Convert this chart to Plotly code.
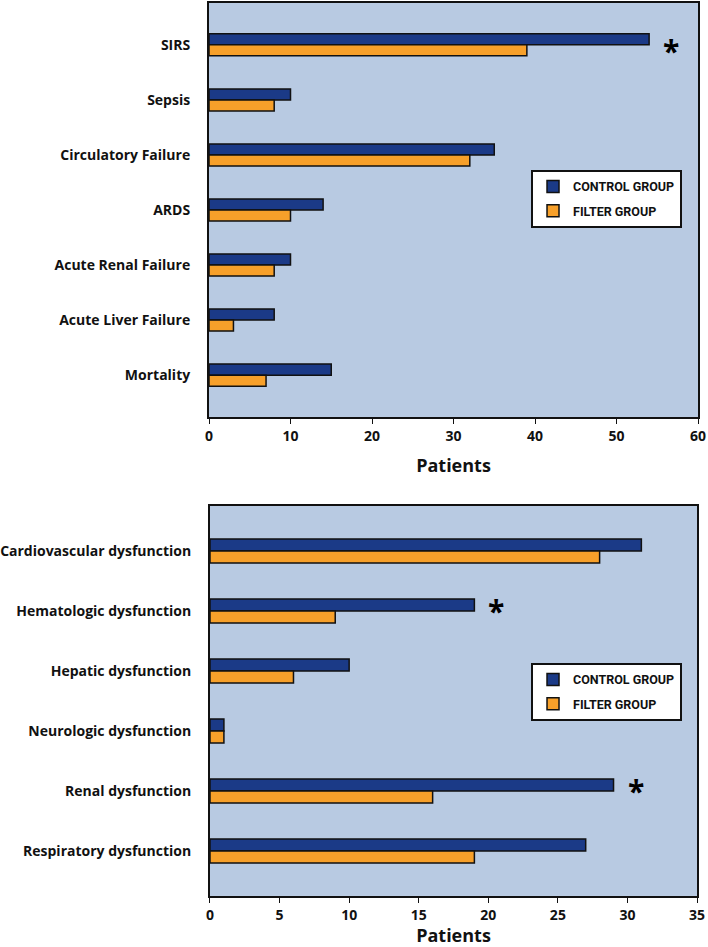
import plotly.graph_objects as go

# ---------------- data ----------------
top_categories = ["SIRS", "Sepsis", "Circulatory Failure", "ARDS",
                  "Acute Renal Failure", "Acute Liver Failure", "Mortality"]
top_control = [54, 10, 35, 14, 10, 8, 15]
top_filter = [39, 8, 32, 10, 8, 3, 7]
top_significant = ["SIRS"]
top_ticks = [0, 10, 20, 30, 40, 50, 60]

bottom_categories = ["Cardiovascular dysfunction", "Hematologic dysfunction",
                     "Hepatic dysfunction", "Neurologic dysfunction",
                     "Renal dysfunction", "Respiratory dysfunction"]
bottom_control = [31, 19, 10, 1, 29, 27]
bottom_filter = [28, 9, 6, 1, 16, 19]
bottom_significant = ["Hematologic dysfunction", "Renal dysfunction"]
bottom_ticks = [0, 5, 10, 15, 20, 25, 30, 35]

series_names = ["CONTROL GROUP", "FILTER GROUP"]
x_title = "Patients"

# ---------------- style ----------------
FONT = "Open Sans"
C_CONTROL = "#1b3a87"
C_FILTER = "#f7a02a"
BG = "#b8cae2"

fig = go.Figure()

def add_pair(cats, ctrl, filt, xa, ya, legend):
    fig.add_trace(go.Bar(y=cats, x=ctrl, orientation="h", name=series_names[0],
                         marker=dict(color=C_CONTROL, line=dict(color="#111111", width=1.5)),
                         xaxis=xa, yaxis=ya, legend=legend, legendgroup=legend + "c"))
    fig.add_trace(go.Bar(y=cats, x=filt, orientation="h", name=series_names[1],
                         marker=dict(color=C_FILTER, line=dict(color="#111111", width=1.5)),
                         xaxis=xa, yaxis=ya, legend=legend, legendgroup=legend + "f"))

add_pair(top_categories, top_control, top_filter, "x", "y", "legend")
add_pair(bottom_categories, bottom_control, bottom_filter, "x2", "y2", "legend2")

annotations = []
for cat in top_significant:
    v = top_control[top_categories.index(cat)]
    annotations.append(dict(x=v, y=cat, xref="x", yref="y", text="<b>*</b>", showarrow=False,
                            xshift=22, yshift=-6, font=dict(size=30, color="black", family=FONT)))
for cat in bottom_significant:
    v = bottom_control[bottom_categories.index(cat)]
    annotations.append(dict(x=v, y=cat, xref="x2", yref="y2", text="<b>*</b>", showarrow=False,
                            xshift=22, yshift=0, font=dict(size=30, color="black", family=FONT)))

axis_common = dict(showgrid=False, zeroline=False, showline=True, linecolor="#111111",
                   linewidth=2, mirror=True, automargin=False)
tickfont = dict(family=FONT, size=14, color="#111111", weight="bold")

legend_common = dict(bgcolor="white", bordercolor="#111111", borderwidth=2,
                     font=dict(family="Roboto", size=12.5, color="#111111", weight="bold"),
                     xanchor="right", yanchor="top", traceorder="grouped",
                     tracegroupgap=5, itemwidth=30)

fig.update_layout(
    width=708, height=947,
    margin=dict(l=0, r=0, t=0, b=0),
    paper_bgcolor="white",
    plot_bgcolor=BG,
    barmode="group", bargap=0.6, bargroupgap=0,
    font=dict(family=FONT, color="#111111"),
    showlegend=True,
    xaxis=dict(domain=[0.2952, 0.9859], anchor="y", range=[0, 60], tickvals=top_ticks,
               ticks="outside", ticklen=5, tickcolor="#111111", tickfont=tickfont,
               title=dict(text=x_title, font=dict(family=FONT, size=18, weight="bold"), standoff=16),
               **axis_common),
    yaxis=dict(domain=[0.5597, 0.9968], anchor="x", type="category",
               categoryorder="array", categoryarray=top_categories,
               range=[6.76, -0.76], ticks="", tickfont=tickfont, ticklabelstandoff=14,
               **axis_common),
    xaxis2=dict(domain=[0.2966, 0.9845], anchor="y2", range=[0, 35], tickvals=bottom_ticks,
                ticks="outside", ticklen=5, tickcolor="#111111", tickfont=tickfont,
                title=dict(text=x_title, font=dict(family=FONT, size=18, weight="bold"), standoff=8),
                **axis_common),
    yaxis2=dict(domain=[0.0539, 0.4657], anchor="x2", type="category",
                categoryorder="array", categoryarray=bottom_categories,
                range=[5.75, -0.75], ticks="", tickfont=tickfont, ticklabelstandoff=14,
                **axis_common),
    legend=dict(x=0.9633, y=0.8205, **legend_common),
    legend2=dict(x=0.9633, y=0.2999, **legend_common),
    annotations=annotations,
)

fig.write_html("out.html", config={"displayModeBar": False},
               post_script="document.body.style.margin='0';document.body.style.overflow='hidden';")
